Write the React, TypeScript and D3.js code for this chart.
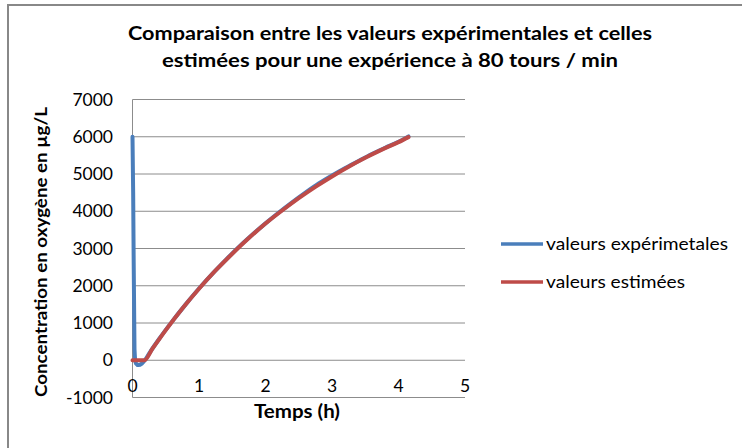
import React from "react";
import * as d3 from "d3";

const width = 742;
const height = 448;

// Temps (h) / concentration (µg/L)
const estTime = [0, 0.18, 0.3, 0.5, 0.75, 1.0, 1.25, 1.5, 1.75, 2.0, 2.25, 2.5, 2.75, 3.0, 3.25, 3.5, 3.75, 4.0, 4.15];
const estValue = [0, 0, 310, 810, 1390, 1920, 2410, 2860, 3280, 3670, 4020, 4350, 4655, 4935, 5195, 5435, 5655, 5855, 5990];

const expTime = [0, 0.01, 0.03, 0.05, 0.09, 0.14, 0.19, 0.25, 0.4, 0.6, 0.8, 1.0, 1.2, 1.4, 1.6, 1.8, 2.0, 2.2, 2.4, 2.6, 2.8, 3.0, 3.2, 3.4, 3.6, 3.8, 4.0, 4.15];
const expValue = [6000, 4500, 300, -80, -130, -90, 10, 180, 570, 1050, 1500, 1925, 2320, 2690, 3045, 3370, 3675, 3965, 4240, 4500, 4745, 4960, 5160, 5350, 5535, 5705, 5865, 6010];

const xTicks = [0, 1, 2, 3, 4, 5];
const yTicks = [-1000, 0, 1000, 2000, 3000, 4000, 5000, 6000, 7000];

const titleLines = [
  "Comparaison  entre les valeurs expérimentales et celles",
  "estimées pour une expérience à 80 tours / min",
];
const titleWidths = [524, 456];
const legendLabels = ["valeurs expérimetales", "valeurs estimées"];
const legendWidths = [182, 139];
const colors = ["#4a7ebb", "#be4b48"];

const font = "Lato, 'Open Sans', sans-serif";

export default function App() {
  const x = d3.scaleLinear().domain([0, 5]).range([132.5, 465]);
  const y = d3.scaleLinear().domain([-1000, 7000]).range([397.5, 99.5]);

  const line = d3
    .line<[number, number]>()
    .x((d) => x(d[0]))
    .y((d) => y(d[1]))
    .curve(d3.curveMonotoneX);

  const expData = expTime.map((t, i) => [t, expValue[i]] as [number, number]);
  const estData = estTime.map((t, i) => [t, estValue[i]] as [number, number]);

  return (
    <svg
      width={width}
      height={height}
      style={{ position: "absolute", left: 0, top: 0, background: "#fff" }}
    >
      {/* chart frame, cut on the right and bottom */}
      <path d={`M8,${height + 5} V5 H${width + 5}`} fill="none" stroke="#888" strokeWidth={2} />

      {titleLines.map((t, i) => (
        <text
          key={i}
          x={390}
          y={33 + i * 27}
          dy="0.35em"
          textAnchor="middle"
          fontFamily={font}
          fontWeight="bold"
          fontSize={19}
          textLength={titleWidths[i]}
          lengthAdjust="spacingAndGlyphs"
        >
          {t}
        </text>
      ))}

      {/* gridlines */}
      {yTicks.map((v) => (
        <line key={v} x1={x(0)} x2={x(5)} y1={y(v)} y2={y(v)} stroke="#8c8c8c" strokeWidth={1} />
      ))}
      <line x1={x(0)} x2={x(0)} y1={y(7000)} y2={y(-1000)} stroke="#8c8c8c" strokeWidth={1} />

      {yTicks.map((v) => (
        <text
          key={v}
          x={113}
          y={y(v)}
          dy="0.35em"
          textAnchor="end"
          fontFamily={font}
          fontSize={17.5}
        >
          {v}
        </text>
      ))}
      {xTicks.map((t) => (
        <text
          key={t}
          x={x(t)}
          y={386}
          dy="0.35em"
          textAnchor="middle"
          fontFamily={font}
          fontSize={17.5}
        >
          {t}
        </text>
      ))}

      <text
        x={297}
        y={412}
        dy="0.35em"
        textAnchor="middle"
        fontFamily={font}
        fontWeight="bold"
        fontSize={18}
        textLength={86}
        lengthAdjust="spacingAndGlyphs"
      >
        Temps (h)
      </text>
      <text
        transform="translate(41,252) rotate(-90)"
        dy="0.35em"
        textAnchor="middle"
        fontFamily={font}
        fontWeight="bold"
        fontSize={17}
        textLength={290}
        lengthAdjust="spacingAndGlyphs"
      >
        Concentration en oxygène en µg/L
      </text>

      <path d={line(expData) || ""} fill="none" stroke={colors[0]} strokeWidth={4} strokeLinejoin="round" strokeLinecap="round" />
      <path d={line(estData) || ""} fill="none" stroke={colors[1]} strokeWidth={4} strokeLinejoin="round" strokeLinecap="round" />

      {legendLabels.map((l, i) => (
        <g key={l} transform={`translate(0,${244 + i * 38})`}>
          <line x1={501} x2={543} y1={0} y2={0} stroke={colors[i]} strokeWidth={3.5} />
          <text
            x={546}
            y={0}
            dy="0.35em"
            fontFamily={font}
            fontSize={18}
            textLength={legendWidths[i]}
            lengthAdjust="spacingAndGlyphs"
          >
            {l}
          </text>
        </g>
      ))}
    </svg>
  );
}
